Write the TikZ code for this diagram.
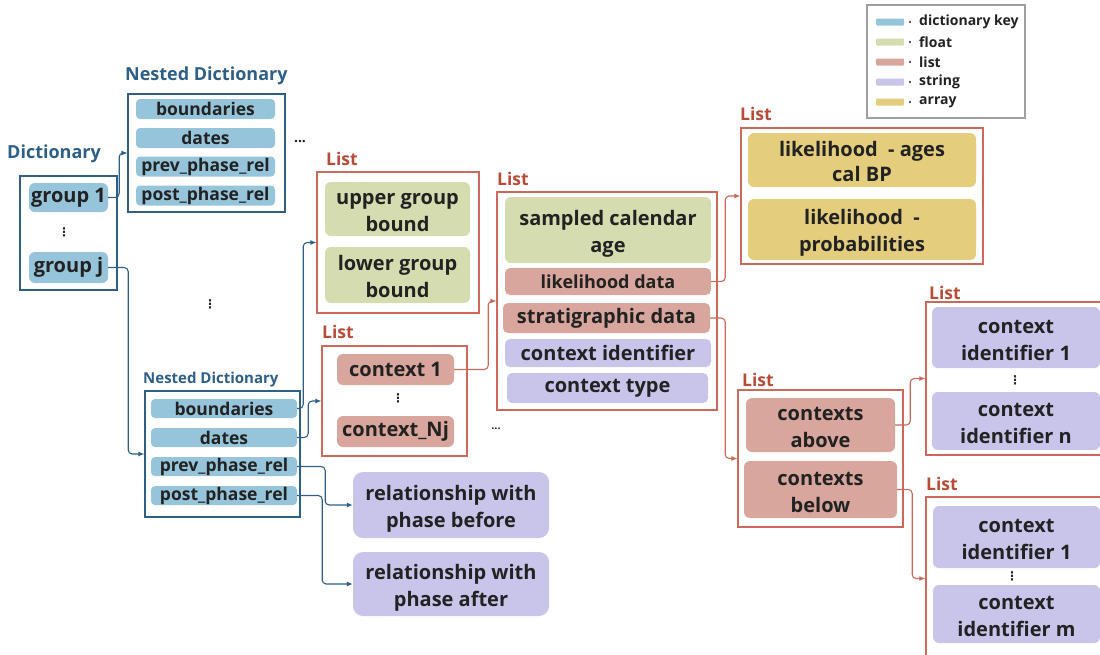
\documentclass[tikz,border=0pt]{standalone}
\usepackage{fontspec}
\setmainfont{Open Sans}
\newfontfamily\dotsfont{DejaVu Sans}
\usepackage{xcolor}
\usepackage{tikz}
\usetikzlibrary{arrows.meta}

\definecolor{keyblue}{RGB}{150,196,218}
\definecolor{floatgreen}{RGB}{213,221,176}
\definecolor{listred}{RGB}{216,166,156}
\definecolor{strpurple}{RGB}{200,196,234}
\definecolor{arryellow}{RGB}{228,206,125}
\definecolor{dictline}{RGB}{45,95,135}
\definecolor{listline}{RGB}{205,105,90}
\definecolor{listlabel}{RGB}{185,75,55}
\definecolor{inkgray}{RGB}{34,34,34}

% two lines of text, with struts so that all boxes set them alike
\newcommand{\twol}[2]{\rule{0pt}{22pt}#1\\#2\rule[-4pt]{0pt}{4pt}}

\begin{document}
\begin{tikzpicture}[x=1pt,y=-1pt,
    sz/.style 2 args={minimum width=#1pt, minimum height=#2pt},
    item/.style={rounded corners=6pt, inner sep=0pt, align=center, text=inkgray,
                 font=\bfseries\fontsize{20}{27}\selectfont},
    keyitem/.style={item, fill=keyblue, rounded corners=4pt, font=\bfseries\fontsize{17.5}{19}\selectfont},
    dictbox/.style={draw=dictline, line width=1.2pt, inner sep=0pt},
    listbox/.style={draw=listline, line width=1.1pt, inner sep=0pt},
    dictlabel/.style={anchor=west, inner sep=0pt, text=dictline, font=\bfseries\fontsize{18}{20}\selectfont},
    listlab/.style={anchor=west, inner sep=0pt, text=listlabel, font=\bfseries\fontsize{17.5}{19}\selectfont},
    vdots/.style={inner sep=0pt, text=inkgray, font=\dotsfont\bfseries\fontsize{12}{12}\selectfont},
    bluelink/.style={draw=dictline, line width=1.1pt, rounded corners=4pt, -{Latex[length=6pt,width=5pt]}},
    redlink/.style={draw=listline, line width=1.1pt, rounded corners=4pt, -{Latex[length=6pt,width=5pt]}}]
    \useasboundingbox (0,0) rectangle (1100,654);

    % legend
    \node[draw=gray!75, line width=1.4pt, sz={158}{113}] (legend) at (946,61.5) {};
    \foreach \c/\t [count=\i] in {keyblue/dictionary key, floatgreen/float, listred/list, strpurple/string, arryellow/array}{
        \fill[\c, rounded corners=1pt] (876,{22+20*(\i-1)-3.5}) rectangle ++(28,7);
        \fill[inkgray] (910,{22+20*(\i-1)}) circle(1.1pt);
        \node[anchor=west, inner sep=0pt, text=inkgray, font=\bfseries\fontsize{14}{16}\selectfont] (leg\i) at (919,{22+20*(\i-1)}) {\t};
    }

    % dictionary
    \node[dictlabel] (dlab) at (7,154) {Dictionary};
    \node[dictbox, sz={97}{114}] (dict) at (68.5,233) {};
    \node[item, fill=keyblue, sz={79}{29}] (g1) at (68.5,197.5) {group 1};
    \node[vdots] (gdots) at (64,232) {⋮};
    \node[item, fill=keyblue, sz={79}{31}] (gj) at (68.5,267.5) {group j};

    % first nested dictionary
    \node[dictlabel] (ndlab1) at (125,76) {Nested Dictionary};
    \node[dictbox, sz={157}{118}] (nd1) at (206.5,153) {};
    \node[keyitem, sz={139}{20}] (ka) at (205.5,109) {boundaries};
    \node[keyitem, sz={139}{20}] (kb) at (205.5,138) {dates};
    \node[keyitem, sz={139}{20}] (kc) at (205.5,166.5) {prev\_phase\_rel};
    \node[keyitem, sz={139}{20}] (kd) at (205.5,195.5) {post\_phase\_rel};
    \node[inner sep=0pt, text=inkgray, font=\bfseries\fontsize{14}{14}\selectfont] (nddots) at (300,142) {...};

    \node[vdots] (mdots) at (210,304) {⋮};

    % second nested dictionary
    \node[dictlabel, font=\bfseries\fontsize{15}{17}\selectfont] (ndlab2) at (143,380) {Nested Dictionary};
    \node[dictbox, sz={155}{126}] (nd2) at (222.5,454) {};
    \node[keyitem, sz={146}{19}] (ke) at (224,408.5) {boundaries};
    \node[keyitem, sz={146}{19}] (kf) at (224,437.5) {dates};
    \node[keyitem, sz={146}{19}] (kg) at (224,466.5) {prev\_phase\_rel};
    \node[keyitem, sz={146}{19}] (kh) at (224,495.5) {post\_phase\_rel};

    % group bounds
    \node[listlab] (llab1) at (326,159) {List};
    \node[listbox, sz={162}{141}] (l1) at (398,242.5) {};
    \node[item, fill=floatgreen, sz={145}{54}] (ugb) at (397.5,209) {\twol{upper group}{bound}};
    \node[item, fill=floatgreen, sz={145}{56}] (lgb) at (397.5,275) {\twol{lower group}{bound}};

    % contexts
    \node[listlab] (llab2) at (322,332) {List};
    \node[listbox, sz={145}{110}] (l2) at (394.5,401) {};
    \node[item, fill=listred, sz={117}{31}] (c1) at (395.5,369.5) {context 1};
    \node[vdots] (cdots) at (398,398) {⋮};
    \node[item, fill=listred, sz={117}{31}] (cn) at (395.5,431.5) {context\_Nj};
    \node[inner sep=0pt, text=inkgray, font=\bfseries\fontsize{11}{11}\selectfont] (ctdots) at (496,429) {...};

    % one context
    \node[listlab] (llab3) at (497,179) {List};
    \node[listbox, sz={220}{218}] (l3) at (607,301) {};
    \node[item, fill=floatgreen, sz={206}{66}] (sca) at (608,230) {\twol{sampled calendar}{age}};
    \node[item, fill=listred, rounded corners=5pt, sz={206}{27}, font=\bfseries\fontsize{18}{20}\selectfont] (lhd) at (608,281.5) {likelihood data};
    \node[item, fill=listred, rounded corners=5pt, sz={207}{30}] (std) at (606.5,318) {stratigraphic data};
    \node[item, fill=strpurple, rounded corners=5pt, sz={206}{28}] (cid) at (608,353) {context identifier};
    \node[item, fill=strpurple, rounded corners=5pt, sz={201}{30}] (cty) at (607.5,388) {context type};

    % likelihood
    \node[listlab] (llab4) at (740,114) {List};
    \node[listbox, sz={242}{136}] (l4) at (862,196) {};
    \node[item, fill=arryellow, sz={228}{54}, font=\bfseries\fontsize{20}{25}\selectfont] (lag) at (862,160) {\twol{likelihood\ \ - ages}{cal BP}};
    \node[item, fill=arryellow, sz={228}{61}] (lpr) at (862,229.5) {\twol{likelihood\ \ -}{probabilities}};

    % stratigraphy
    \node[listlab] (llab5) at (742,380) {List};
    \node[listbox, sz={165}{137}] (l5) at (820.5,458.5) {};
    \node[item, fill=listred, sz={149}{54}] (cab) at (820.5,425) {\twol{contexts}{above}};
    \node[item, fill=listred, sz={153}{57}] (cbe) at (820.5,489.5) {\twol{contexts}{below}};

    \node[listlab] (llab6) at (929,293) {List};
    \node[listbox, sz={178}{153}] (l6) at (1015,378.5) {};
    \node[item, fill=strpurple, sz={168}{61}] (ca1) at (1016,337.5) {\twol{context}{identifier 1}};
    \node[vdots] (cadots) at (1015,380) {⋮};
    \node[item, fill=strpurple, sz={168}{58}] (can) at (1016,421) {\twol{context}{identifier n}};

    \node[listlab] (llab7) at (926,484) {List};
    \node[listbox, sz={178}{163}] (l7) at (1015,578.5) {};
    \node[item, fill=strpurple, sz={167}{62}] (cb1) at (1016.5,537) {\twol{context}{identifier 1}};
    \node[vdots] (cbdots) at (1012,576) {⋮};
    \node[item, fill=strpurple, sz={167}{58}] (cbm) at (1016.5,614) {\twol{context}{identifier m}};

    % relationships
    \node[item, fill=strpurple, rounded corners=10pt, sz={196}{66}] (rpb) at (451,505) {\twol{relationship with}{phase before}};
    \node[item, fill=strpurple, rounded corners=10pt, sz={196}{64}] (rpa) at (451,584) {\twol{relationship with}{phase after}};

    % links
    \draw[bluelink] (g1.east) -- ++(11,0) |- (nd1.west);
    \draw[bluelink] (gj.east) -- ++(20,0) |- (nd2.west);
    \draw[bluelink] (ke.east) -- ++(6,0) |- (l1.west);
    \draw[bluelink] (kf.east) -- ++(11,0) |- (l2.west);
    \draw[bluelink] (kg.east) -- ++(28,0) |- (rpb.west);
    \draw[bluelink] (kh.east) -- ++(25,0) |- (rpa.west);
    \draw[redlink] (c1.east) -- ++(34,0) |- (l3.west);
    \draw[redlink] (lhd.east) -- ++(14,0) |- (l4.west);
    \draw[redlink] (std.east) -- ++(15,0) |- (l5.west);
    \draw[redlink] (cab.east) -- ++(15,0) |- (l6.west);
    \draw[redlink] (cbe.east) -- ++(15,0) |- (l7.west);
\end{tikzpicture}
\end{document}
